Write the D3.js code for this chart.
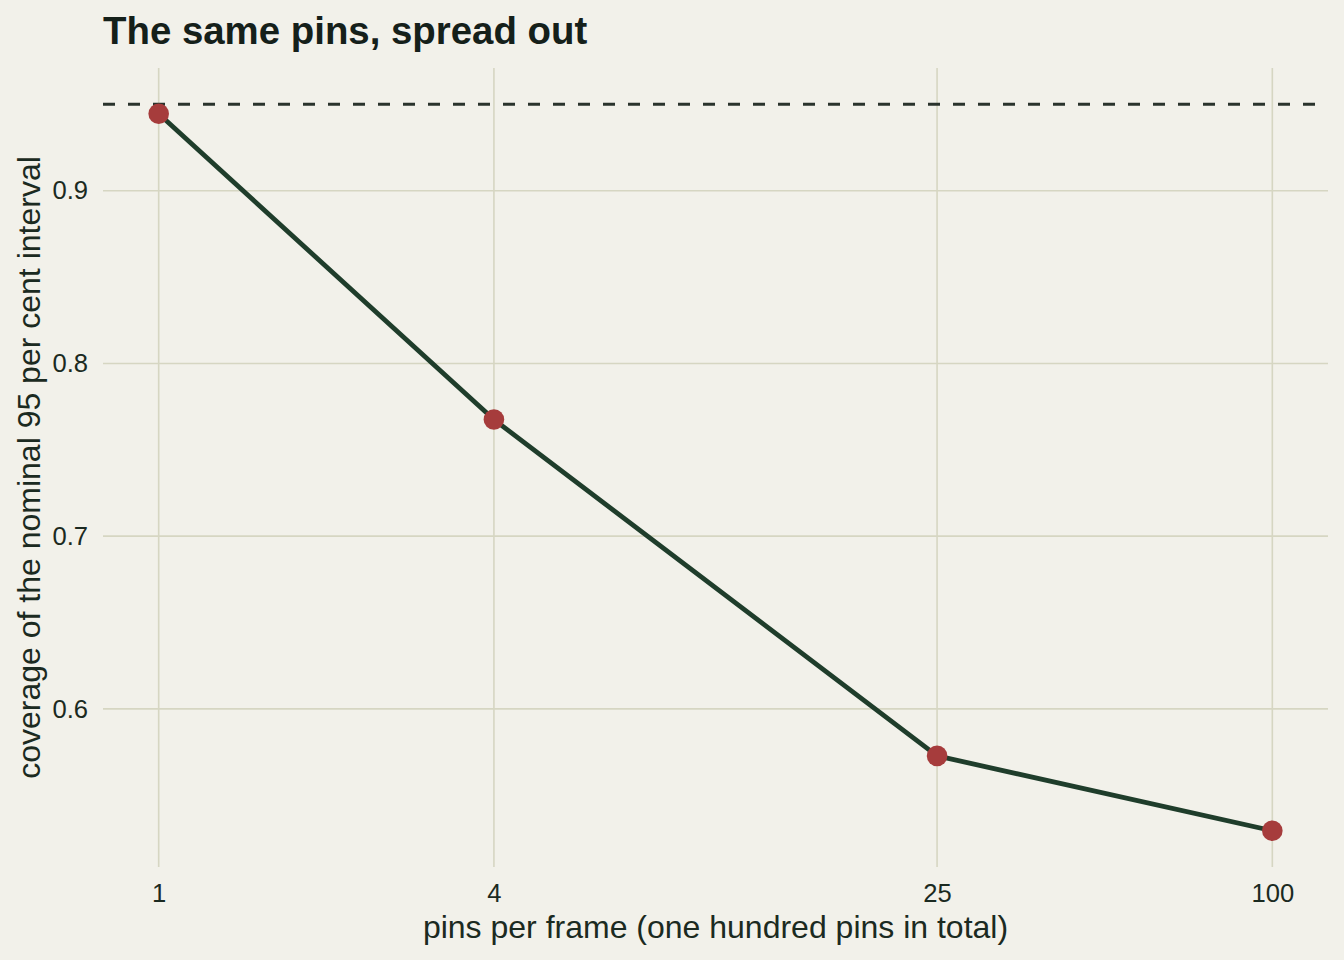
<!DOCTYPE html>
<html>
<head>
<meta charset="utf-8">
<script src="https://cdn.jsdelivr.net/npm/d3@7"></script>
<style>
  html, body { margin: 0; padding: 0; background: #f2f1ea; }
  svg { display: block; font-family: "Liberation Sans", Arial, Helvetica, sans-serif; }
</style>
</head>
<body>
<svg class="chart" width="1344" height="960"></svg>
<script>
// data
const pinsPerFrame = [1, 4, 25, 100];
const coverage = [0.9445, 0.7675, 0.5728, 0.5295];
const nominal = 0.95;
const yTicks = [0.6, 0.7, 0.8, 0.9];

const W = 1344, H = 960;
let margin = {top: 68, right: 16, bottom: 93, left: 103};
let width = W - margin.left - margin.right, height = H - margin.top - margin.bottom;

const ink = '#1b2a21', grid = '#d6d6c2';

let svg = d3.select('.chart');
svg.append('rect').attr('width', W).attr('height', H).style('fill', '#f2f1ea');

// log x scale with ggplot-like 5% expansion
let lx = [Math.log10(d3.min(pinsPerFrame)), Math.log10(d3.max(pinsPerFrame))];
let ex = (lx[1] - lx[0]) * 0.05;
let x = d3.scaleLog()
    .domain([Math.pow(10, lx[0] - ex), Math.pow(10, lx[1] + ex)])
    .range([0, width]);

let yvals = coverage.concat([nominal]);
let ylo = d3.min(yvals), yhi = d3.max(yvals), ey = (yhi - ylo) * 0.05;
let y = d3.scaleLinear().domain([ylo - ey, yhi + ey]).range([height, 0]);

let g = svg.append('g')
    .attr('transform', 'translate(' + margin.left + ',' + margin.top + ')');

// grid
g.selectAll('.vgrid').data(pinsPerFrame).enter().append('line')
    .attr('x1', d => x(d)).attr('x2', d => x(d))
    .attr('y1', 0).attr('y2', height)
    .style('stroke', grid).style('stroke-width', 1.6);
g.selectAll('.hgrid').data(yTicks).enter().append('line')
    .attr('x1', 0).attr('x2', width)
    .attr('y1', d => y(d)).attr('y2', d => y(d))
    .style('stroke', grid).style('stroke-width', 1.6);

// axes (labels only)
let xAxis = d3.axisBottom(x).tickValues(pinsPerFrame).tickFormat(d3.format('d')).tickSize(0).tickPadding(17);
let yAxis = d3.axisLeft(y).tickValues(yTicks).tickFormat(d3.format('.1f')).tickSize(0).tickPadding(15);

let xa = g.append('g').attr('transform', 'translate(0,' + height + ')').call(xAxis);
let ya = g.append('g').call(yAxis);
[xa, ya].forEach(a => {
  a.select('.domain').remove();
  a.selectAll('text')
    .style('font-family', '"Liberation Sans", Arial, sans-serif')
    .style('font-size', '25.6px')
    .style('fill', ink);
});

// nominal reference line
g.append('line')
    .attr('x1', 0).attr('x2', width)
    .attr('y1', y(nominal)).attr('y2', y(nominal))
    .style('stroke', '#2a332c').style('stroke-width', 3)
    .style('stroke-dasharray', '12,13');

// line + points
let line = d3.line().x(d => x(d[0])).y(d => y(d[1]));
g.append('path')
    .datum(d3.zip(pinsPerFrame, coverage))
    .attr('d', line)
    .style('fill', 'none')
    .style('stroke', '#1f3d2b')
    .style('stroke-width', 4.8)
    .style('stroke-linejoin', 'round');

g.selectAll('.pt').data(d3.zip(pinsPerFrame, coverage)).enter().append('circle')
    .attr('cx', d => x(d[0])).attr('cy', d => y(d[1]))
    .attr('r', 10.3)
    .style('fill', '#a63c3c');

// titles
svg.append('text')
    .attr('x', 103).attr('y', 44)
    .style('font-size', '38.4px').style('font-weight', 'bold')
    .style('fill', '#15201a')
    .text('The same pins, spread out');

svg.append('text')
    .attr('x', margin.left + width / 2).attr('y', 938)
    .attr('text-anchor', 'middle')
    .style('font-size', '32px').style('fill', ink)
    .text('pins per frame (one hundred pins in total)');

svg.append('text')
    .attr('transform', 'translate(40,' + (margin.top + height / 2) + ') rotate(-90)')
    .attr('text-anchor', 'middle')
    .style('font-size', '32px').style('fill', ink)
    .text('coverage of the nominal 95 per cent interval');
</script>
</body>
</html>
